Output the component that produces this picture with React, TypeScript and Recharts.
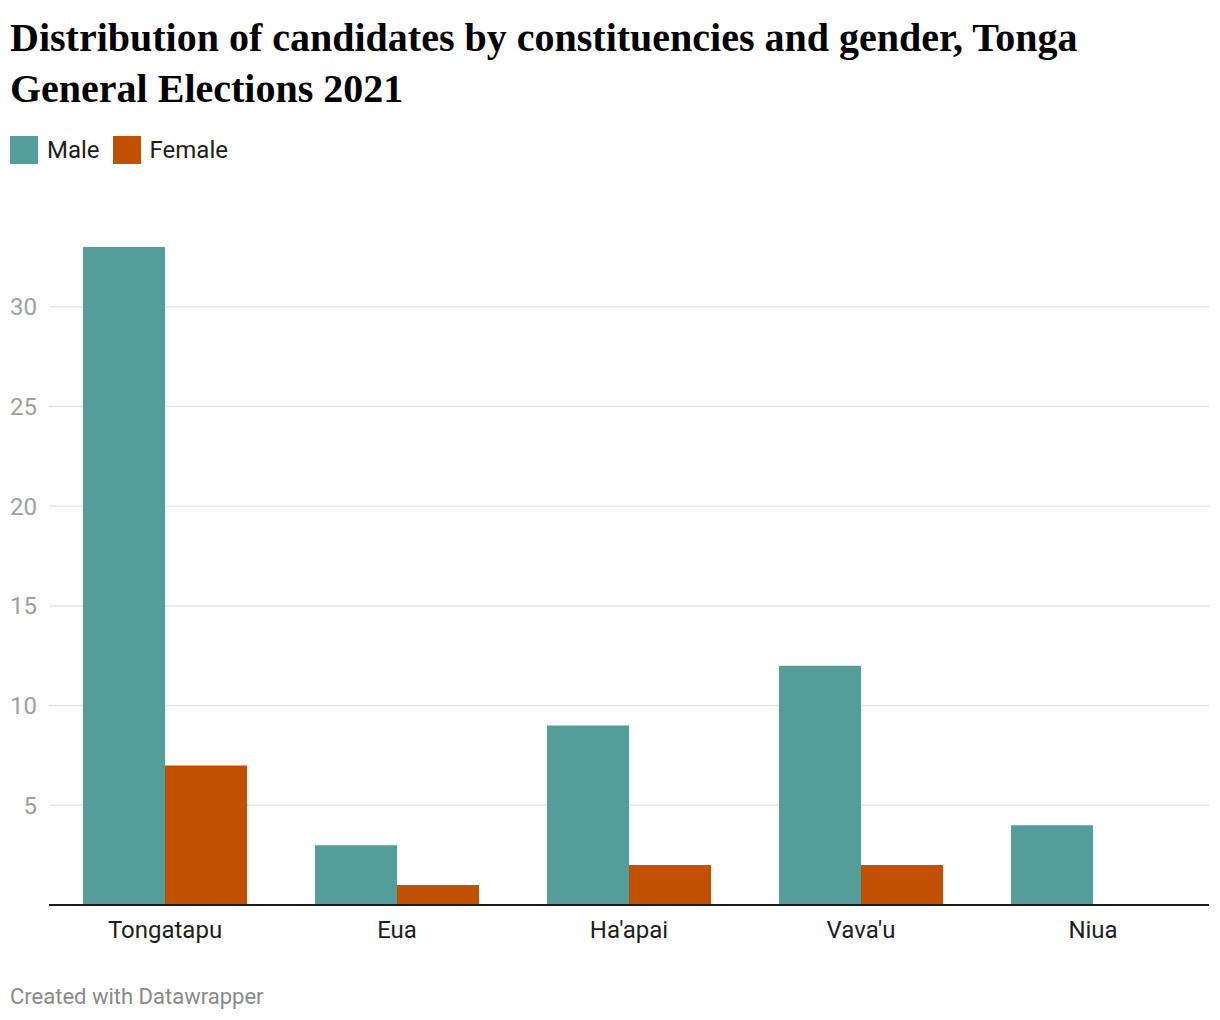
import React from "react";
import { BarChart, Bar, XAxis, YAxis, CartesianGrid } from "recharts";

const categories = ["Tongatapu", "Eua", "Ha'apai", "Vava'u", "Niua"];
const maleValues = [33, 3, 9, 12, 4];
const femaleValues = [7, 1, 2, 2, 0];
const yTicks = [5, 10, 15, 20, 25, 30];
const seriesNames = ["Male", "Female"];
const seriesColors = ["#549d98", "#c05100"];

const data = categories.map((c, i) => ({
  name: c,
  Male: maleValues[i],
  Female: femaleValues[i],
}));

const FONT = "Roboto, 'Noto Sans', sans-serif";

export default function App() {
  return (
    <div
      style={{
        position: "absolute",
        left: 0,
        top: 0,
        width: 1220,
        height: 1020,
        background: "#fff",
        overflow: "hidden",
      }}
    >
      <div
        style={{
          position: "absolute",
          left: 10,
          top: 12,
          width: 1180,
          fontFamily: "'Liberation Serif', 'Times New Roman', serif",
          fontWeight: 700,
          fontSize: 40,
          lineHeight: "51px",
          color: "#000",
        }}
      >
        Distribution of candidates by constituencies and gender, Tonga General Elections 2021
      </div>
      <div
        style={{
          position: "absolute",
          left: 10,
          top: 136,
          height: 28,
          display: "flex",
          alignItems: "center",
          fontFamily: FONT,
          fontSize: 24,
          color: "#1d1d1d",
        }}
      >
        {seriesNames.map((n, i) => (
          <div key={n} style={{ display: "flex", alignItems: "center", marginRight: 13 }}>
            <div style={{ width: 28, height: 28, background: seriesColors[i], marginRight: 9 }} />
            <span>{n}</span>
          </div>
        ))}
      </div>
      <div style={{ position: "absolute", left: 0, top: 0 }}>
        <BarChart
          width={1220}
          height={1020}
          data={data}
          margin={{ top: 247, right: 11, left: 0, bottom: 75 }}
          barCategoryGap={34}
          barGap={0}
        >
          <CartesianGrid vertical={false} stroke="#e6e6e6" strokeWidth={1.5} syncWithTicks />
          <XAxis
            dataKey="name"
            height={40}
            tickLine={false}
            axisLine={{ stroke: "#1d1d1d", strokeWidth: 2 }}
            tickMargin={10}
            tick={{ fontFamily: FONT, fontSize: 24, fill: "#1d1d1d" }}
            interval={0}
          />
          <YAxis
            width={49}
            domain={[0, 33]}
            ticks={yTicks}
            axisLine={false}
            tickLine={false}
            tickMargin={6}
            tick={{ fontFamily: FONT, fontSize: 24, fill: "#a0a0a0" }}
          />
          {seriesNames.map((n, i) => (
            <Bar key={n} dataKey={n} fill={seriesColors[i]} isAnimationActive={false} />
          ))}
        </BarChart>
      </div>
      <div
        style={{
          position: "absolute",
          left: 10,
          top: 985,
          fontFamily: FONT,
          fontSize: 22,
          lineHeight: "24px",
          color: "#8a8a8a",
        }}
      >
        Created with Datawrapper
      </div>
    </div>
  );
}
